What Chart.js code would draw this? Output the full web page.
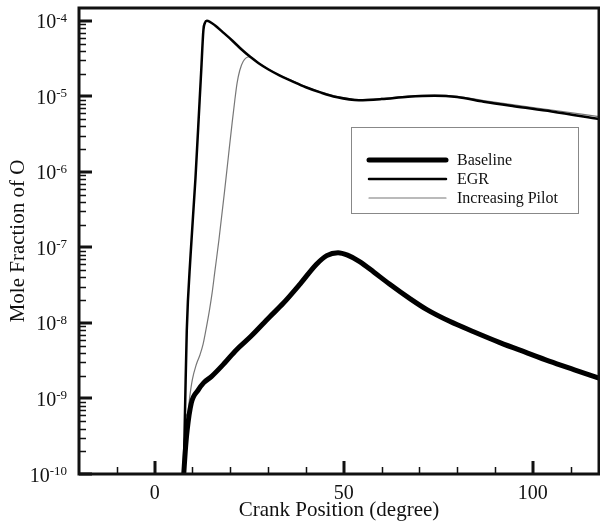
<!DOCTYPE html>
<html>
<head>
<meta charset="utf-8">
<title>Mole Fraction of O</title>
<script src="https://cdn.jsdelivr.net/npm/chart.js@4.4.1/dist/chart.umd.min.js"></script>
<style>
  body { margin: 0; background: #fff; }
  canvas { display: block; }
</style>
</head>
<body>
<canvas id="graph" width="600" height="525"></canvas>
<script>
// --- DATA ---
const baselineCrank = [7.7, 8.1, 8.6, 9.7, 11.5, 13, 15, 18.5, 21.6, 25.4, 30.4, 34, 38.5, 42.8, 45.5, 48.5, 51, 54.2, 58, 62, 67.5, 72, 78, 84.5, 91.3, 98, 104.5, 111, 117.5];
const baselineO = [1e-10, 2.0e-10, 3.8e-10, 8.7e-10, 1.29e-9, 1.62e-9, 1.95e-9, 2.95e-9, 4.4e-9, 6.6e-9, 1.2e-8, 1.82e-8, 3.3e-8, 6.0e-8, 7.8e-8, 8.5e-8, 7.9e-8, 6.5e-8, 4.7e-8, 3.3e-8, 2.1e-8, 1.5e-8, 1.05e-8, 7.6e-9, 5.5e-9, 4.1e-9, 3.1e-9, 2.4e-9, 1.86e-9];

const egrCrank = [7.7, 8.1, 8.5, 9.5, 10.8, 11.9, 12.3, 12.9, 13.3, 13.8, 14.5, 16, 18, 20.5, 23, 25.1, 27.5, 30, 33, 36, 40, 44, 48, 54, 60, 67, 74, 80, 87, 95, 105, 117.5];
const egrO = [1e-10, 1e-9, 8e-9, 7.9e-8, 8.3e-7, 8.9e-6, 2.1e-5, 7.6e-5, 9.4e-5, 1.0e-4, 9.8e-5, 8.7e-5, 7.1e-5, 5.5e-5, 4.17e-5, 3.39e-5, 2.75e-5, 2.29e-5, 1.9e-5, 1.62e-5, 1.32e-5, 1.12e-5, 9.8e-6, 8.9e-6, 9.2e-6, 9.9e-6, 1.02e-5, 9.8e-6, 8.5e-6, 7.4e-6, 6.3e-6, 5.0e-6];

const pilotCrank = [7.7, 8.1, 8.8, 9.3, 10, 11, 12, 12.8, 13.6, 14.5, 15.2, 15.9, 17, 18.5, 19.5, 20.5, 21.2, 21.8, 22.5, 23.4, 25.1, 27.5, 30, 33, 36, 40, 44, 48, 54, 60, 67, 74, 80, 87, 95, 105, 117.5];
const pilotO = [1e-10, 5e-10, 6.5e-10, 1.07e-9, 1.8e-9, 2.8e-9, 3.8e-9, 5.2e-9, 8.3e-9, 1.48e-8, 2.5e-8, 4.7e-8, 1.26e-7, 5.6e-7, 1.6e-6, 4.5e-6, 8.9e-6, 1.5e-5, 2.2e-5, 2.9e-5, 3.35e-5, 2.77e-5, 2.31e-5, 1.92e-5, 1.64e-5, 1.34e-5, 1.14e-5, 1.0e-5, 9.1e-6, 9.4e-6, 1.01e-5, 1.04e-5, 1.0e-5, 8.8e-6, 7.7e-6, 6.6e-6, 5.4e-6];

const crankMajorTicks = [0, 50, 100];
const crankMinorTicks = [-10, 10, 20, 30, 40, 60, 70, 80, 90, 110];
const decadeExponents = [-10, -9, -8, -7, -6, -5, -4];

const SERIF = '"Liberation Serif", "Times New Roman", serif';
const INK = '#111';

function toPoints(xs, ys) {
    return xs.map((x, i) => ({ x: x, y: ys[i] }));
}

// --- AXES, TICKS, LABELS AND LEGEND ---
const frameAndLegend = {
    id: 'frameAndLegend',
    afterDraw(chart) {
        const ctx = chart.ctx;
        const area = chart.chartArea;
        const xs = chart.scales.x;
        const ys = chart.scales.y;
        ctx.save();
        ctx.strokeStyle = INK;
        ctx.fillStyle = INK;

        // minor ticks (log decades 2..9, crank every 10)
        ctx.lineWidth = 1.5;
        ctx.beginPath();
        for (let e of decadeExponents) {
            for (let m = 2; m <= 9; m++) {
                let v = m * Math.pow(10, e);
                if (v > ys.max) break;
                let py = Math.round(ys.getPixelForValue(v)) + 0.5;
                ctx.moveTo(area.left, py);
                ctx.lineTo(area.left + 7, py);
            }
        }
        for (let c of crankMinorTicks) {
            let px = Math.round(xs.getPixelForValue(c)) + 0.5;
            ctx.moveTo(px, area.bottom);
            ctx.lineTo(px, area.bottom - 7);
        }
        ctx.stroke();

        // major ticks
        ctx.lineWidth = 3;
        ctx.beginPath();
        for (let e of decadeExponents) {
            let py = Math.round(ys.getPixelForValue(Math.pow(10, e)));
            ctx.moveTo(area.left, py);
            ctx.lineTo(area.left + 13, py);
        }
        for (let c of crankMajorTicks) {
            let px = Math.round(xs.getPixelForValue(c));
            ctx.moveTo(px, area.bottom);
            ctx.lineTo(px, area.bottom - 13);
        }
        ctx.stroke();

        // frame
        ctx.lineWidth = 3;
        ctx.strokeRect(area.left, area.top, area.right - area.left, area.bottom - area.top);

        // y tick labels: 10 with a raised exponent
        ctx.textAlign = 'left';
        ctx.textBaseline = 'alphabetic';
        for (let e of decadeExponents) {
            let py = ys.getPixelForValue(Math.pow(10, e));
            let sup = String(e);
            ctx.font = '13px ' + SERIF;
            let supW = ctx.measureText(sup).width;
            ctx.font = '20px ' + SERIF;
            let baseW = ctx.measureText('10').width;
            let right = 67;
            ctx.fillText('10', right - supW - baseW, py + 7.5);
            ctx.font = '13px ' + SERIF;
            ctx.fillText(sup, right - supW, py + 1);
        }

        // x tick labels
        ctx.font = '20px ' + SERIF;
        ctx.textAlign = 'center';
        for (let c of crankMajorTicks) {
            ctx.fillText(String(c), xs.getPixelForValue(c), 499);
        }

        // axis titles
        ctx.font = '21px ' + SERIF;
        ctx.fillText('Crank Position (degree)', (area.left + area.right) / 2, 516);
        ctx.save();
        ctx.translate(24, (area.top + area.bottom) / 2);
        ctx.rotate(-Math.PI / 2);
        ctx.fillText('Mole Fraction of O', 0, 0);
        ctx.restore();

        // legend box
        const box = { left: 351, top: 127, right: 578, bottom: 213 };
        ctx.fillStyle = '#fff';
        ctx.fillRect(box.left, box.top, box.right - box.left, box.bottom - box.top);
        ctx.strokeStyle = '#888';
        ctx.lineWidth = 1;
        ctx.strokeRect(box.left + 0.5, box.top + 0.5, box.right - box.left, box.bottom - box.top);
        ctx.font = '16px ' + SERIF;
        ctx.textAlign = 'left';
        chart.data.datasets.forEach((ds, i) => {
            let ry = 160 + i * 19;
            ctx.strokeStyle = ds.borderColor;
            ctx.lineWidth = ds.borderWidth;
            ctx.lineCap = 'round';
            ctx.beginPath();
            ctx.moveTo(369, ry);
            ctx.lineTo(446, ry);
            ctx.stroke();
            ctx.fillStyle = INK;
            ctx.fillText(ds.label, 457, ry + 5);
        });
        ctx.restore();
    }
};

// --- CHART ---
const canvas = document.getElementById('graph').getContext('2d');
const chart = new Chart(canvas, {
    type: 'line',
    data: {
        datasets: [
            { label: 'Baseline', data: toPoints(baselineCrank, baselineO), borderColor: '#000', borderWidth: 5 },
            { label: 'EGR', data: toPoints(egrCrank, egrO), borderColor: '#000', borderWidth: 2.5 },
            { label: 'Increasing Pilot', data: toPoints(pilotCrank, pilotO), borderColor: '#777', borderWidth: 1.2 }
        ]
    },
    options: {
        responsive: false,
        animation: false,
        layout: { padding: { left: 79, right: 1, top: 8, bottom: 51 } },
        elements: {
            point: { radius: 0 },
            line: { cubicInterpolationMode: 'monotone', fill: false, borderJoinStyle: 'round', borderCapStyle: 'round' }
        },
        plugins: { legend: { display: false }, tooltip: { enabled: false } },
        scales: {
            x: { type: 'linear', min: -20, max: 117.5, display: false },
            y: { type: 'logarithmic', min: 1e-10, max: 1.48e-4, display: false }
        }
    },
    plugins: [frameAndLegend]
});
</script>
</body>
</html>
